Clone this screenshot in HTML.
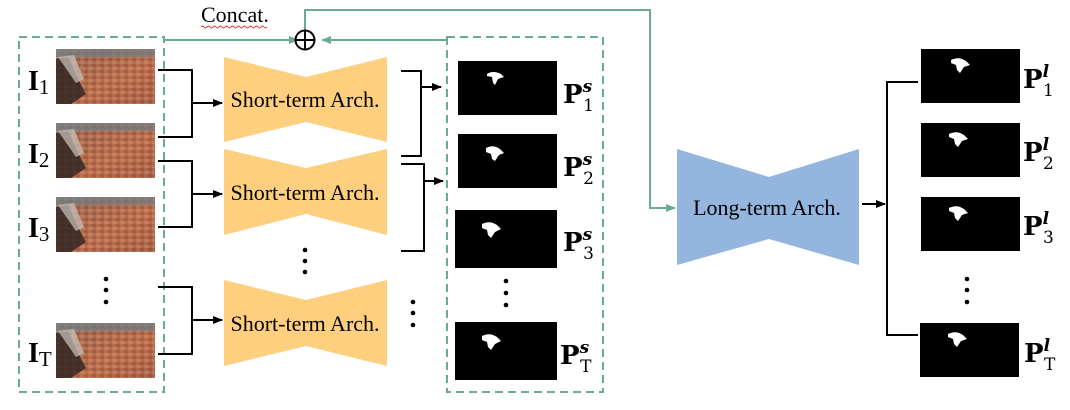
<!DOCTYPE html>
<html><head><meta charset="utf-8"><style>
body{margin:0;background:#fff;}
svg{display:block}
text{font-family:"Liberation Serif",serif;}
</style></head><body>
<svg width="1070" height="410" viewBox="0 0 1070 410" xmlns="http://www.w3.org/2000/svg">
<defs>
<linearGradient id="rock" x1="0" y1="0" x2="1" y2="1">
<stop offset="0" stop-color="#8a8f8c"/><stop offset="0.25" stop-color="#9c6a52"/><stop offset="0.6" stop-color="#c0734f"/><stop offset="1" stop-color="#a05c45"/>
</linearGradient>
<pattern id="bricks" width="8" height="6" patternUnits="userSpaceOnUse">
<rect width="8" height="6" fill="#b8694a"/><rect x="0" y="0" width="5" height="3" fill="#d08a68"/><rect x="4" y="3" width="4" height="3" fill="#8f4c38"/>
</pattern>
<g id="img">
<rect width="99" height="55" fill="url(#bricks)"/>
<rect width="99" height="55" fill="url(#rock)" opacity="0.5"/>
<rect x="0" y="0" width="99" height="8" fill="#6f7e84" opacity="0.7"/>
<polygon points="0,10 12,8 22,30 30,45 15,55 0,55" fill="#2a2220" opacity="0.8"/>
<polygon points="2,8 18,6 28,30 20,34" fill="#c9c4bf" opacity="0.7"/>
</g>
<marker id="ab" markerWidth="10" markerHeight="8" refX="9" refY="4" orient="auto" markerUnits="userSpaceOnUse"><path d="M0,0 L10,4 L0,8 z" fill="#000"/></marker>
<marker id="ag" markerWidth="10" markerHeight="8" refX="9" refY="4" orient="auto" markerUnits="userSpaceOnUse"><path d="M0,0 L10,4 L0,8 z" fill="#6aab94"/></marker>
</defs>

<rect x="19" y="37" width="145" height="355" fill="none" stroke="#6aab94" stroke-width="2" stroke-dasharray="8,5"/>
<rect x="447" y="37" width="156" height="355" fill="none" stroke="#6aab94" stroke-width="2" stroke-dasharray="8,5"/>

<polyline points="164,40 298,40" fill="none" stroke="#6aab94" stroke-width="2" marker-end="url(#ag)"/>
<polyline points="447,40 322,40" fill="none" stroke="#6aab94" stroke-width="2" marker-end="url(#ag)"/>
<polyline points="305,30 305,10 650,10 650,208 675,208" fill="none" stroke="#6aab94" stroke-width="2" marker-end="url(#ag)"/>
<circle cx="305" cy="40" r="9.5" fill="#fff" stroke="#000" stroke-width="2"/>
<line x1="295.5" y1="40" x2="314.5" y2="40" stroke="#000" stroke-width="2"/>
<line x1="305" y1="30.5" x2="305" y2="49.5" stroke="#000" stroke-width="2"/>
<text x="201" y="22" font-size="22">Concat.</text>
<path d="M201,27 q1.5,-2 3,0 t3,0 t3,0 t3,0 t3,0 t3,0 t3,0 t3,0 t3,0 t3,0 t3,0 t3,0 t3,0 t3,0 t3,0 t3,0 t3,0 t3,0 t3,0 t3,0 t3,0 t3,0" fill="none" stroke="#e03030" stroke-width="1"/>

<use href="#img" x="56" y="49"/>
<use href="#img" x="56" y="123"/>
<use href="#img" x="56" y="197"/>
<use href="#img" x="56" y="323"/>
<g font-weight="bold" font-size="28">
<text x="28" y="90">I<tspan font-size="21" font-weight="normal" dy="4">1</tspan></text>
<text x="28" y="163">I<tspan font-size="21" font-weight="normal" dy="4">2</tspan></text>
<text x="28" y="237">I<tspan font-size="21" font-weight="normal" dy="4">3</tspan></text>
<text x="28" y="362">I<tspan font-size="21" font-weight="normal" dy="4">T</tspan></text>
</g>
<g fill="#000"><circle cx="106" cy="279" r="2.3"/><circle cx="106" cy="290" r="2.3"/><circle cx="106" cy="302" r="2.3"/>
<circle cx="305" cy="250" r="2.3"/><circle cx="305" cy="261" r="2.3"/><circle cx="305" cy="272" r="2.3"/>
<circle cx="413" cy="302" r="2.3"/><circle cx="413" cy="313" r="2.3"/><circle cx="413" cy="325" r="2.3"/>
<circle cx="506" cy="281" r="2.3"/><circle cx="506" cy="293" r="2.3"/><circle cx="506" cy="305" r="2.3"/>
<circle cx="967" cy="279" r="2.3"/><circle cx="967" cy="290" r="2.3"/><circle cx="967" cy="302" r="2.3"/></g>

<g fill="none" stroke="#000" stroke-width="2">
<polyline points="158,70 192,70 192,137 158,137"/>
<polyline points="158,161 192,161 192,227 158,227"/>
<polyline points="158,287 192,287 192,354 158,354"/>
<polyline points="401,71 421,71 421,156 401,156"/>
<polyline points="401,164 424,164 424,251 401,251"/>
<polyline points="918,82 887,82 887,335 918,335"/>
</g>
<g stroke="#000" stroke-width="2">
<line x1="192" y1="103" x2="222" y2="103" marker-end="url(#ab)"/>
<line x1="192" y1="194" x2="222" y2="194" marker-end="url(#ab)"/>
<line x1="192" y1="320" x2="222" y2="320" marker-end="url(#ab)"/>
<line x1="421" y1="87" x2="441" y2="87" marker-end="url(#ab)"/>
<line x1="424" y1="181" x2="443" y2="181" marker-end="url(#ab)"/>
<line x1="862" y1="204" x2="885" y2="204" marker-end="url(#ab)"/>
</g>

<g fill="#fecf7f">
<polygon points="224,57 306,77 387,57 387,142 306,122 224,142"/>
<polygon points="224,149 306,168 387,149 387,235 306,214 224,235"/>
<polygon points="224,280 306,300 387,280 387,366 306,346 224,366"/>
</g>
<g font-size="22" text-anchor="middle">
<text x="305" y="107">Short-term Arch.</text>
<text x="305" y="200">Short-term Arch.</text>
<text x="305" y="331">Short-term Arch.</text>
</g>

<polygon points="677,149 769,177 859,149 859,265 769,239 677,265" fill="#93b5de"/>
<text x="767" y="215" font-size="22" text-anchor="middle">Long-term Arch.</text>

<g fill="#000">
<rect x="458" y="61" width="99" height="54"/><rect x="458" y="134" width="99" height="54"/>
<rect x="455" y="210" width="102" height="58"/><rect x="455" y="322" width="102" height="58"/>
<rect x="921" y="49" width="99" height="54"/><rect x="921" y="123" width="99" height="54"/>
<rect x="921" y="197" width="99" height="54"/><rect x="920" y="323" width="99" height="54"/>
</g>
<g fill="#fff">
<path d="M487,74 q6,-4 14,0 l3,3 -6,2 -3,6 -2,-2 -1,-6 -5,-1z"/>
<path d="M486,148 q7,-4 14,1 l4,4 -5,2 -4,6 -3,-2 -1,-5 -5,-2z"/>
<path d="M482,224 q8,-4 15,1 l4,4 -6,3 -4,6 -3,-3 -1,-5 -5,-2z"/>
<path d="M482,336 q8,-4 15,1 l4,4 -6,3 -4,6 -3,-3 -1,-5 -5,-2z"/>
<path d="M951,60 q8,-4 15,1 l4,4 -6,2 -4,6 -3,-3 -1,-5 -5,-2z"/>
<path d="M949,134 q8,-4 15,1 l4,4 -6,2 -4,6 -3,-3 -1,-5 -5,-2z"/>
<path d="M949,208 q8,-4 15,1 l4,4 -6,2 -4,6 -3,-3 -1,-5 -5,-2z"/>
<path d="M948,334 q8,-4 15,1 l4,4 -6,2 -4,6 -3,-3 -1,-5 -5,-2z"/>
</g>
<g font-size="26" font-weight="bold" style="font-family:'DejaVu Serif',serif">
<text x="563" y="103" style="font-family:'DejaVu Serif',serif">P<tspan font-size="17" font-style="italic" dy="-11">s</tspan><tspan font-size="17" font-weight="normal" dx="-9" dy="19">1</tspan></text>
<text x="563" y="176" style="font-family:'DejaVu Serif',serif">P<tspan font-size="17" font-style="italic" dy="-11">s</tspan><tspan font-size="17" font-weight="normal" dx="-9" dy="19">2</tspan></text>
<text x="563" y="251" style="font-family:'DejaVu Serif',serif">P<tspan font-size="17" font-style="italic" dy="-11">s</tspan><tspan font-size="17" font-weight="normal" dx="-9" dy="19">3</tspan></text>
<text x="560" y="364" style="font-family:'DejaVu Serif',serif">P<tspan font-size="17" font-style="italic" dy="-11">s</tspan><tspan font-size="17" font-weight="normal" dx="-9" dy="19">T</tspan></text>
<text x="1023" y="88" style="font-family:'DejaVu Serif',serif">P<tspan font-size="17" font-style="italic" dy="-11">l</tspan><tspan font-size="17" font-weight="normal" dx="-6" dy="19">1</tspan></text>
<text x="1023" y="161" style="font-family:'DejaVu Serif',serif">P<tspan font-size="17" font-style="italic" dy="-11">l</tspan><tspan font-size="17" font-weight="normal" dx="-6" dy="19">2</tspan></text>
<text x="1023" y="235" style="font-family:'DejaVu Serif',serif">P<tspan font-size="17" font-style="italic" dy="-11">l</tspan><tspan font-size="17" font-weight="normal" dx="-6" dy="19">3</tspan></text>
<text x="1024" y="362" style="font-family:'DejaVu Serif',serif">P<tspan font-size="17" font-style="italic" dy="-11">l</tspan><tspan font-size="17" font-weight="normal" dx="-6" dy="19">T</tspan></text>
</g>
</svg>
</body></html>
